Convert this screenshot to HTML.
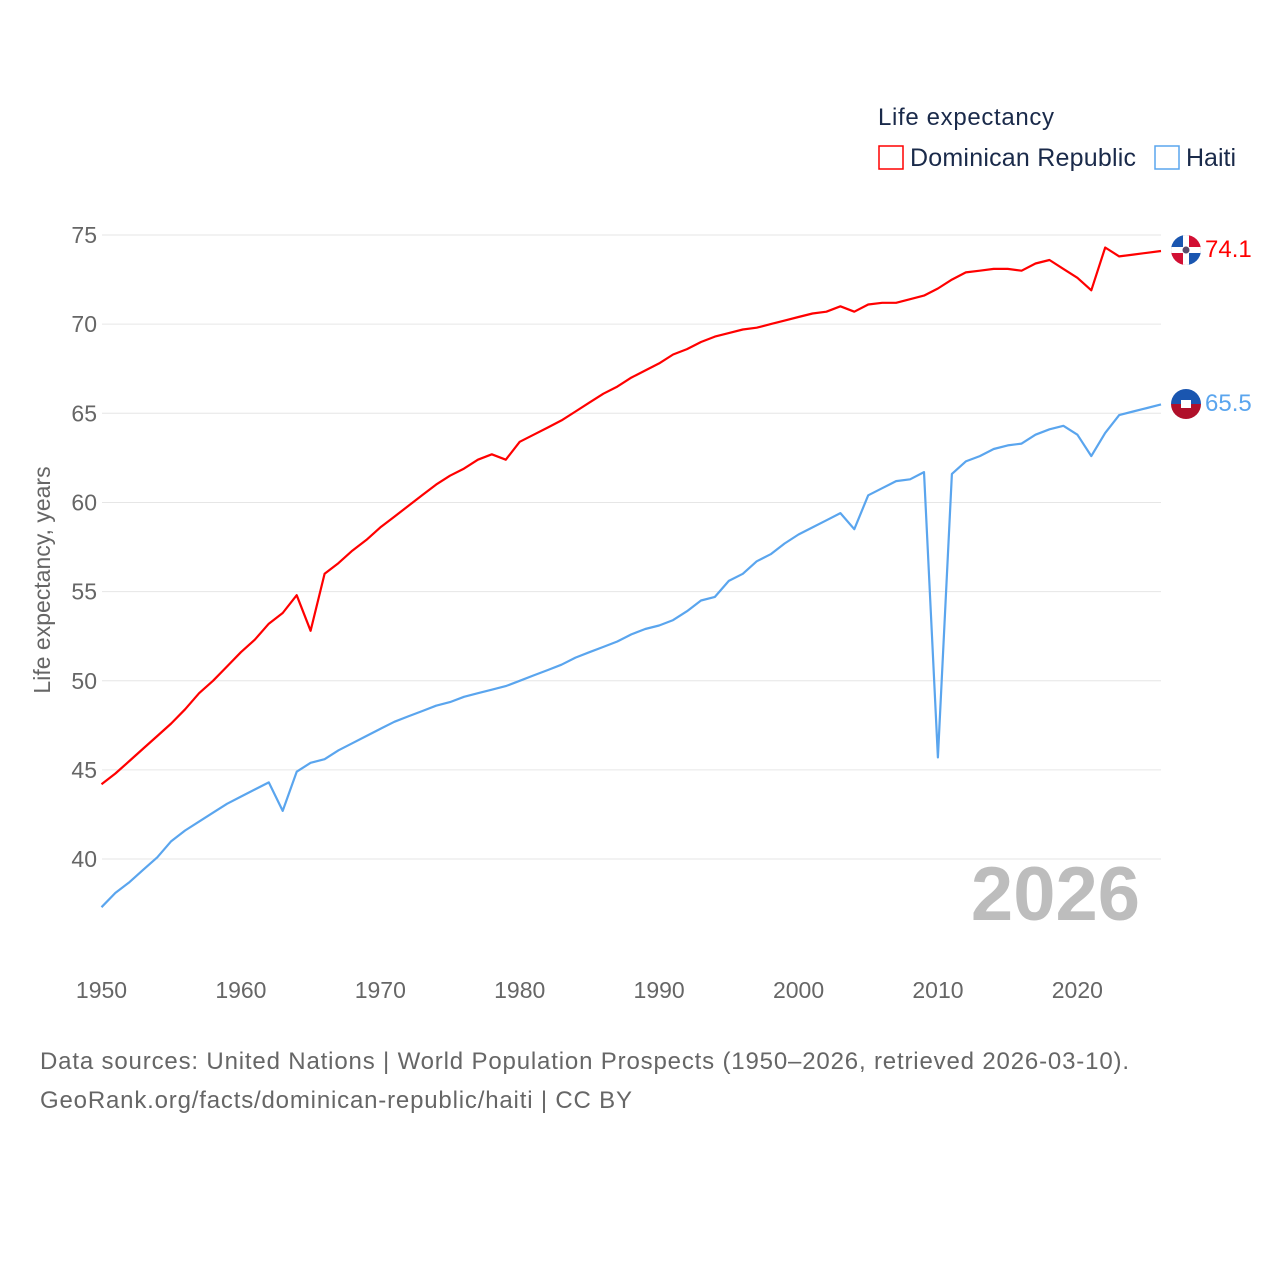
<!DOCTYPE html>
<html><head><meta charset="utf-8">
<style>
body{margin:0;background:#fff;width:1280px;height:1280px;overflow:hidden;font-family:"Liberation Sans","DejaVu Sans",sans-serif;}
svg{display:block}
</style></head>
<body>
<svg id="chart" width="1280" height="1280" xmlns="http://www.w3.org/2000/svg">
  <g id="grid"></g>
  <g id="yticks"></g>
  <g id="xticks"></g>
  <text transform="translate(50,580) rotate(-90)" text-anchor="middle" font-size="23" fill="#666">Life expectancy, years</text>
  <text x="1140" y="920" text-anchor="end" font-size="76" font-weight="bold" fill="#bdbdbd">2026</text>
  <g>
    <text x="878" y="125" font-size="24" fill="#1a2a4a" textLength="176">Life expectancy</text>
    <g>
      <rect x="879" y="146" width="24" height="23" fill="none" stroke="#ff0000" stroke-width="1.5"/>
      <text x="910" y="166" font-size="25" fill="#1a2a4a" textLength="226">Dominican Republic</text>
    </g>
    <g>
      <rect x="1155" y="146" width="24" height="23" fill="none" stroke="#5aa5ee" stroke-width="1.5"/>
      <text x="1186" y="166" font-size="25" fill="#1a2a4a">Haiti</text>
    </g>
  </g>
  <g id="series"></g>
  <g>
    <clipPath id="c1"><circle cx="1186" cy="250" r="15"/></clipPath>
    <g clip-path="url(#c1)">
      <rect x="1170" y="234" width="16" height="16" fill="#1a56b0"/><rect x="1186" y="234" width="16" height="16" fill="#d21034"/>
      <rect x="1170" y="250" width="16" height="16" fill="#d21034"/><rect x="1186" y="250" width="16" height="16" fill="#1a56b0"/>
      <rect x="1183" y="234" width="6" height="32" fill="#fff"/><rect x="1170" y="247" width="32" height="6" fill="#fff"/>
      <circle cx="1186" cy="250" r="3.5" fill="#5a4a6a"/>
    </g>
  </g>
  <text x="1205" y="257" font-size="24" fill="#ff0000">74.1</text>
  <g>
    <clipPath id="c2"><circle cx="1186" cy="404" r="15"/></clipPath>
    <g clip-path="url(#c2)">
      <rect x="1170" y="388" width="32" height="16" fill="#1a56b0"/><rect x="1170" y="404" width="32" height="16" fill="#b0102a"/>
      <rect x="1181" y="400" width="10" height="8" fill="#fff"/>
    </g>
  </g>
  <text x="1205" y="411" font-size="24" fill="#5aa5ee">65.5</text>
  <text x="40" y="1069" font-size="24" fill="#666" textLength="1089">Data sources: United Nations | World Population Prospects (1950–2026, retrieved 2026-03-10).</text>
  <text x="40" y="1108" font-size="24" fill="#666" textLength="592">GeoRank.org/facts/dominican-republic/haiti | CC BY</text>
</svg>
<script>
const startYear = 1950;
const yTicks = [40,45,50,55,60,65,70,75];
const xTicks = [1950,1960,1970,1980,1990,2000,2010,2020];
const drValues = [44.2,44.8,45.5,46.2,46.9,47.6,48.4,49.3,50.0,50.8,51.6,52.3,53.2,53.8,54.8,52.8,56.0,56.6,57.3,57.9,58.6,59.2,59.8,60.4,61.0,61.5,61.9,62.4,62.7,62.4,63.4,63.8,64.2,64.6,65.1,65.6,66.1,66.5,67.0,67.4,67.8,68.3,68.6,69.0,69.3,69.5,69.7,69.8,70.0,70.2,70.4,70.6,70.7,71.0,70.7,71.1,71.2,71.2,71.4,71.6,72.0,72.5,72.9,73.0,73.1,73.1,73.0,73.4,73.6,73.1,72.6,71.9,74.3,73.8,73.9,74.0,74.1];
const haitiValues = [37.3,38.1,38.7,39.4,40.1,41.0,41.6,42.1,42.6,43.1,43.5,43.9,44.3,42.7,44.9,45.4,45.6,46.1,46.5,46.9,47.3,47.7,48.0,48.3,48.6,48.8,49.1,49.3,49.5,49.7,50.0,50.3,50.6,50.9,51.3,51.6,51.9,52.2,52.6,52.9,53.1,53.4,53.9,54.5,54.7,55.6,56.0,56.7,57.1,57.7,58.2,58.6,59.0,59.4,58.5,60.4,60.8,61.2,61.3,61.7,45.7,61.6,62.3,62.6,63.0,63.2,63.3,63.8,64.1,64.3,63.8,62.6,63.9,64.9,65.1,65.3,65.5];

const NS='http://www.w3.org/2000/svg';
const xs = yr => 101.5 + (yr-1950)*(1161-101.5)/76;
const ys = v => 235 + (75-v)*17.83;
function mk(tag,attrs,parent){const e=document.createElementNS(NS,tag);for(const k in attrs)e.setAttribute(k,attrs[k]);parent.appendChild(e);return e;}
const grid=document.getElementById('grid'),yt=document.getElementById('yticks'),xt=document.getElementById('xticks'),ser=document.getElementById('series');
yTicks.forEach(v=>{
  const l=mk('line',{x1:102,x2:1161,y1:ys(v),y2:ys(v),stroke:'#e6e6e6','stroke-width':1},grid);
  
  
  const t=mk('text',{x:97,y:ys(v)+8,'text-anchor':'end','font-size':23,fill:'#666'},yt);
  t.textContent=v;
  
  
});
xTicks.forEach(yr=>{
  const t=mk('text',{x:xs(yr),y:998,'text-anchor':'middle','font-size':23,fill:'#666'},xt);
  t.textContent=yr;
  
  
});
function line(vals,color,name){
  const d=vals.map((v,i)=>(i?'L':'M')+xs(startYear+i).toFixed(1)+','+ys(v).toFixed(1)).join('');
  const p=mk('path',{d:d,fill:'none',stroke:color,'stroke-width':2.2,'stroke-linejoin':'round'},ser);
  
  
}
line(drValues,'#ff0000','dominican-republic-line');
line(haitiValues,'#5aa5ee','haiti-line');
</script>
</body></html>
